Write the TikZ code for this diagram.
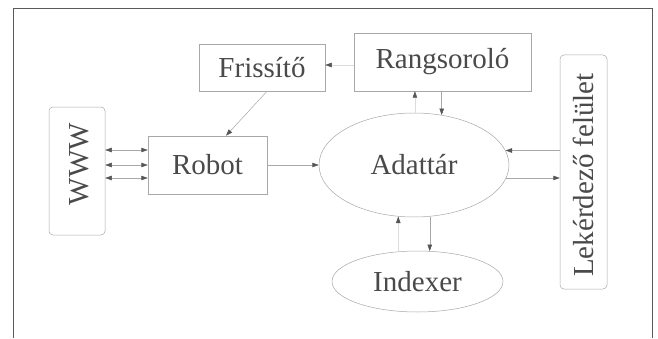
\documentclass[tikz,border=0pt]{standalone}
\usepackage{fontspec}
\setmainfont{Liberation Serif}
\usetikzlibrary{shapes.geometric,arrows.meta}
\definecolor{txt}{HTML}{4A4A4A}
\definecolor{edge}{HTML}{A8A8A8}
\definecolor{frame}{HTML}{5A5A5A}
\definecolor{head}{HTML}{555555}
\tikzset{
  lbl/.style={text=txt, font=\fontsize{29}{33}\selectfont, inner sep=0pt},
  box/.style={lbl, draw=edge, line width=0.5pt, rectangle},
  rbox/.style={box, rounded corners=4pt},
  oval/.style={lbl, draw=edge, line width=0.5pt, ellipse},
  arr/.style={draw=edge, line width=0.5pt, -{Triangle[length=6.5pt,width=4.5pt,fill=head,color=head]}},
  darr/.style={draw=edge, line width=0.5pt, {Triangle[length=6.5pt,width=4.5pt,fill=head,color=head]}-{Triangle[length=6.5pt,width=4.5pt,fill=head,color=head]}},
  farr/.style={arr, draw=edge!40}
}
\begin{document}
\begin{tikzpicture}[x=1pt,y=1pt]
\useasboundingbox (0,0) rectangle (658,338);
\fill[white] (0,0) rectangle (658,338);
% outer frame
\coordinate (fbl) at (13,0);
\coordinate (ftl) at (13,329);
\coordinate (ftr) at (652,329);
\coordinate (fbr) at (652,0);
\draw[frame, line width=1pt] (fbl) -- (ftl) -- (ftr) -- (fbr);

\node[box, minimum width=126pt, minimum height=47pt] (Frissito) at (262,270.5) {Frissítő};
\node[box, minimum width=177pt, minimum height=58pt] (Rangsorolo) at (442.5,276) {Rangsoroló};
\node[rbox, minimum width=56pt, minimum height=128pt] (WWW) at (77,167) {};
\node[lbl, rotate=90] (WWWt) at ([shift={(2pt,7pt)}]WWW.center) {WWW};
\node[box, minimum width=119pt, minimum height=58pt] (Robot) at (207.5,173) {Robot};
\node[oval, minimum width=190pt, minimum height=104pt] (Adattar) at (414,173) {Adattár};
\node[oval, minimum width=171pt, minimum height=61pt] (Indexer) at (417.5,56.5) {Indexer};
\node[rbox, minimum width=47pt, minimum height=234pt] (Lekerdezo) at (583.5,166) {};
\node[lbl, rotate=90] (Lekt) at ([yshift=-3pt]Lekerdezo.center) {Lekérdező felület};

% WWW <-> Robot
\draw[darr] (WWW.east |- 0,188) -- (Robot.west |- 0,188);
\draw[darr] (WWW.east |- 0,173) -- (Robot.west |- 0,173);
\draw[darr] (WWW.east |- 0,160) -- (Robot.west |- 0,160);
% Robot -> Adattar
\draw[arr] (Robot.east) -- (Adattar.west);
% Frissito -> Robot
\draw[arr] ([xshift=5pt]Frissito.south) -- ([xshift=18.5pt]Robot.north);
% Rangsorolo -> Frissito
\draw[farr] (Rangsorolo.west |- 0,273) -- (Frissito.east |- 0,273);
% Adattar <-> Rangsorolo
\draw[farr] (Adattar.89) -- (Adattar.89 |- Rangsorolo.south);
\draw[arr] (Rangsorolo.south -| Adattar.61) -- (Adattar.61);
% Adattar <-> Indexer
\draw[farr] (Adattar.253 |- Indexer.123) -- (Adattar.253);
\draw[arr] (Adattar.287) -- (Adattar.287 |- Indexer.67);
% Lekerdezo <-> Adattar
\draw[arr] (Lekerdezo.west |- Adattar.9) -- (Adattar.9);
\draw[arr] (Adattar.352) -- (Adattar.352 -| Lekerdezo.west);
\end{tikzpicture}
\end{document}
